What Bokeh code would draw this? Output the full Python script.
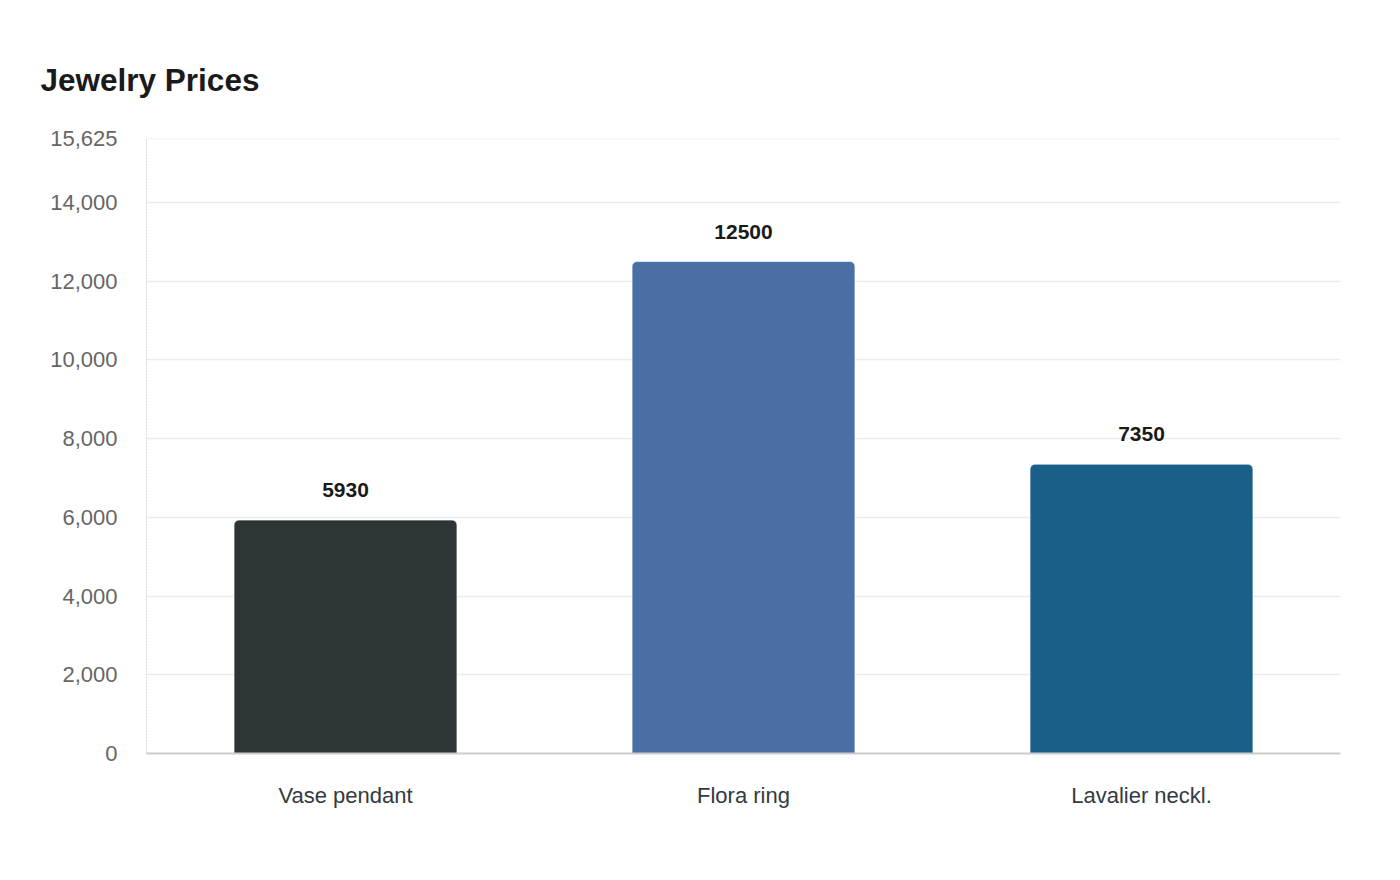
from bokeh.plotting import figure
from bokeh.models import FactorRange, Range1d, FixedTicker, NumeralTickFormatter, ColumnDataSource, LabelSet, Title, Span
from bokeh.core.properties import value
from bokeh.embed import file_html
from bokeh.resources import INLINE

categories = ["Vase pendant", "Flora ring", "Lavalier neckl."]
prices = [5930, 12500, 7350]
colors = ["#2d3436", "#4a6fa5", "#186088"]
y_ticks = [0, 2000, 4000, 6000, 8000, 10000, 12000, 14000, 15625]
y_max = 15625

FONT = "Liberation Sans"

source = ColumnDataSource(dict(cat=categories, price=prices, color=colors,
                               label=[str(v) for v in prices]))

p = figure(width=1400, height=880, output_backend="svg", toolbar_location=None,
           x_range=FactorRange(*categories, range_padding=0),
           y_range=Range1d(0, y_max),
           min_border_left=146, min_border_right=60, min_border_top=138, min_border_bottom=127)
p.outline_line_color = None
p.background_fill_color = "white"
p.border_fill_color = "white"

p.title = Title(text="Jewelry Prices", align="left", offset=-106,
                text_font=FONT, text_font_size="31.5px", text_font_style="bold",
                text_color="#1a1a1a", standoff=81)

p.ygrid.grid_line_color = "#ececec"
p.ygrid.grid_line_width = 1.5
p.ygrid.ticker = FixedTicker(ticks=y_ticks)
p.xgrid.grid_line_color = None
top_grid = Span(location=y_max, dimension="width", line_color="#ececec", line_width=1.5, level="underlay")
p.add_layout(top_grid)

p.vbar(x="cat", top="price", width=0.56, source=source, fill_color="color",
       line_color="white", line_alpha=0.6, line_width=1,
       border_radius=(5, 5, 0, 0))

labels = LabelSet(x="cat", y="price", text="label", source=source, y_offset=30,
                  text_align="center", text_baseline="middle",
                  text_font=value(FONT), text_font_size=value("21px"), text_font_style="bold",
                  text_color="#1a1a1a")
p.add_layout(labels)

p.yaxis.ticker = FixedTicker(ticks=y_ticks)
p.yaxis.formatter = NumeralTickFormatter(format="0,0")
p.yaxis.major_label_text_font = FONT
p.yaxis.major_label_text_font_size = "22px"
p.yaxis.major_label_text_color = "#666666"
p.yaxis.major_tick_line_color = None
p.yaxis.minor_tick_line_color = None
p.yaxis.major_label_standoff = 23
p.yaxis.axis_line_color = "#d8d8d8"
p.yaxis.axis_line_dash = "2 1"

p.xaxis.major_label_text_font = FONT
p.xaxis.major_label_text_font_size = "22px"
p.xaxis.major_label_text_color = "#333a40"
p.xaxis.major_tick_line_color = None
p.xaxis.minor_tick_line_color = None
p.xaxis.major_label_standoff = 23
p.xaxis.axis_line_color = "#cccccc"
p.xaxis.axis_line_width = 2

open("out.html", "w").write(file_html(p, INLINE))
